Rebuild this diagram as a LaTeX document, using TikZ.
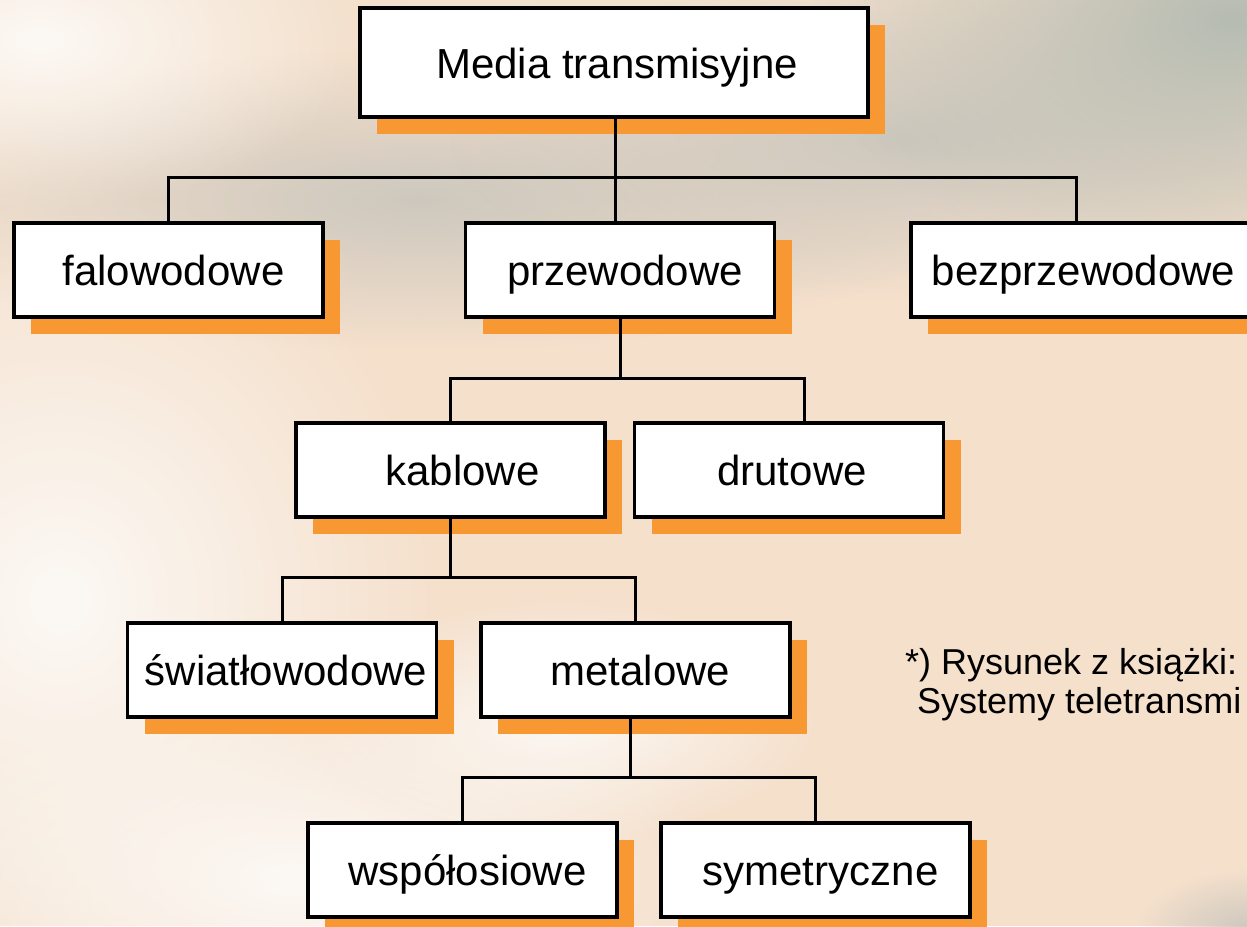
\documentclass[tikz,border=0pt]{standalone}
\usepackage{fontspec}
\setmainfont{Liberation Sans}
\usetikzlibrary{shadows,fadings}
\definecolor{shorange}{RGB}{247,152,51}
\definecolor{bgbase}{RGB}{245,224,204}
\definecolor{bggray}{RGB}{205,200,190}
\definecolor{bggreen}{RGB}{182,188,178}
\definecolor{bgwhite}{RGB}{252,249,245}
\definecolor{bgbeige}{RGB}{240,226,208}
\tikzfading[name=blob, inner color=transparent!0, outer color=transparent!100]
\tikzset{
  box/.style={draw=black, line width=3.5pt, fill=white, minimum width=309pt,
    minimum height=94pt, inner sep=0pt, text height=31pt, text depth=0pt,
    font=\fontsize{42}{50}\selectfont,
    drop shadow={shadow xshift=17pt, shadow yshift=-17pt, fill=shorange, opacity=1}},
  conn/.style={draw=black, line width=3pt},
  note/.style={anchor=base west, inner sep=0pt, font=\fontsize{36}{40}\selectfont}
}
\begin{document}
\begin{tikzpicture}[x=1pt,y=-1pt]
\useasboundingbox (0,0) rectangle (1247,926);
% background
\fill[bgbase] (0,0) rectangle (1247,926);
\begin{scope}
\clip (0,0) rectangle (1247,926);
\fill[bgbeige, path fading=blob] (620,0) ellipse (420 and 120);
\fill[bggray, path fading=blob] (420,200) ellipse (560 and 150);
\fill[bggray, path fading=blob] (900,140) ellipse (450 and 160);
\fill[bggreen, path fading=blob] (1230,20) ellipse (420 and 260);
\fill[bgwhite, path fading=blob] (40,40) ellipse (320 and 170);
\fill[bgwhite, path fading=blob] (60,600) ellipse (380 and 420);
\fill[bgwhite, path fading=blob] (300,880) ellipse (420 and 200);
\fill[bgwhite, path fading=blob] (560,720) ellipse (260 and 120);
\fill[bggray, path fading=blob] (1247,930) ellipse (110 and 60);
\end{scope}
% boxes
\node[box, minimum width=508pt, minimum height=109pt] (media) at (614,62.5) {\hspace*{6pt}Media transmisyjne};
\node[box] (fal) at (168.5,270) {\hspace*{10pt}falowodowe};
\node[box] (prz) at (620,270) {\hspace*{10pt}przewodowe};
\node[box, minimum width=345pt] (bez) at (1083.5,270) {bezprzewodowe};
\node[box] (kab) at (450.5,470) {\hspace*{24pt}kablowe};
\node[box] (dru) at (789,470) {\hspace*{6pt}drutowe};
\node[box] (swi) at (282,670) {\hspace*{8pt}światłowodowe};
\node[box] (met) at (635.5,670) {\hspace*{10pt}metalowe};
\node[box] (wsp) at (462.5,870) {\hspace*{10pt}współosiowe};
\node[box] (sym) at (815.5,870) {\hspace*{10pt}symetryczne};
% junction coordinates
\coordinate (j1) at (615,177);
\coordinate (bt) at (1076,223);
\coordinate (j2) at (620,378);
\coordinate (dt) at (804,424);
\coordinate (j3) at (450,577);
\coordinate (j4) at (630,777);
% connectors
\draw[conn] (media.south -| j1) -- (j1 |- prz.north);
\draw[conn] (fal.north) |- (bt |- j1) -- (bt);
\draw[conn] (prz.south) -- (j2);
\draw[conn] (kab.north) |- (dt |- j2) -- (dt);
\draw[conn] (kab.south -| j3) -- (j3);
\draw[conn] (swi.north) |- (met.north |- j3) -- (met.north);
\draw[conn] (met.south -| j4) -- (j4);
\draw[conn] (wsp.north) |- (sym.north |- j4) -- (sym.north);
% note
\node[note] (fn1) at (905,674) {*) Rysunek z książki:};
\node[note] (fn2) at (917,713) {Systemy teletransmi};
\end{tikzpicture}
\end{document}
